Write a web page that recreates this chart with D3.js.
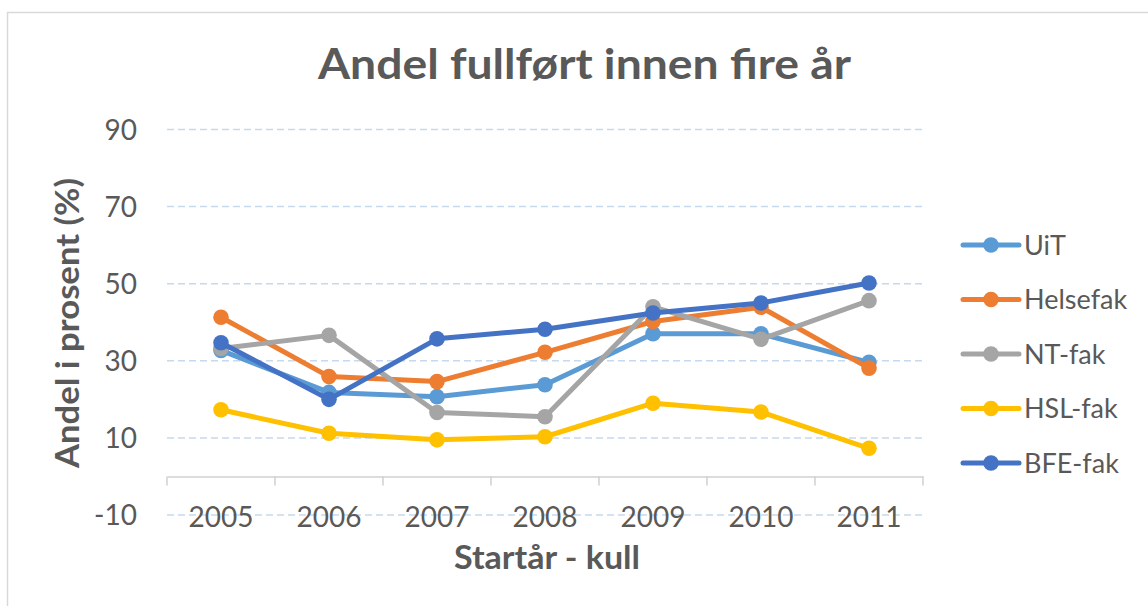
<!DOCTYPE html>
<html><head><meta charset="utf-8">
<script src="https://cdn.jsdelivr.net/npm/d3@7"></script>
<style>html,body{margin:0;padding:0;background:#fff;}svg{display:block;}</style>
</head><body>
<svg id="c" width="1148" height="606"></svg>
<script>
const years = ["2005","2006","2007","2008","2009","2010","2011"];
const seriesNames = ["UiT","Helsefak","NT-fak","HSL-fak","BFE-fak"];
const uit      = [32.7, 21.8, 20.7, 23.8, 37.0, 37.0, 29.6];
const helsefak = [41.3, 25.9, 24.6, 32.2, 40.2, 43.9, 28.1];
const ntfak    = [33.2, 36.6, 16.6, 15.5, 44.0, 35.6, 45.6];
const hslfak   = [17.3, 11.2, 9.5, 10.3, 19.0, 16.7, 7.3];
const bfefak   = [34.7, 20.0, 35.7, 38.2, 42.4, 45.0, 50.2];
const yTicks = [-10, 10, 30, 50, 70, 90];
const colors = ["#5B9BD5","#ED7D31","#A5A5A5","#FFC000","#4472C4"];
const seriesValues = [uit, helsefak, ntfak, hslfak, bfefak];

const svg = d3.select("#c");
const font = "Lato, 'Open Sans', sans-serif";
const txt = "#595959";

// chart border
svg.append("rect").attr("x",7.5).attr("y",12.5).attr("width",1160).attr("height",620)
  .attr("fill","none").attr("stroke","#D9D9D9").attr("stroke-width",1.5);

const x = d3.scaleBand().domain(years).range([167,923]).padding(0);
const y = d3.scaleLinear().domain([-10,90]).range([515,129.5]);

// gridlines
svg.append("g").selectAll("line").data(yTicks).join("line")
  .attr("x1",167).attr("x2",923).attr("y1",d=>y(d)).attr("y2",d=>y(d))
  .attr("stroke","#C5DAEE").attr("stroke-width",1.5).attr("stroke-dasharray","7,4");

// y tick labels
svg.append("g").selectAll("text").data(yTicks).join("text")
  .attr("x",137).attr("y",d=>y(d)).attr("dy","0.36em").attr("text-anchor","end")
  .attr("font-family",font).attr("font-size",28).attr("fill",txt).text(d=>d);

// x axis at 0
const xAxis = d3.axisBottom(x).tickSize(0).tickFormat("");
const gx = svg.append("g").attr("transform",`translate(0,${y(0)})`).call(xAxis);
gx.select(".domain").attr("stroke","#D0D0D0").attr("stroke-width",1.5);
const bounds = years.map(d=>x(d)).concat([x(years[years.length-1])+x.bandwidth()]);
gx.selectAll(".bt").data(bounds).join("line").attr("class","bt")
  .attr("x1",d=>d).attr("x2",d=>d).attr("y1",0).attr("y2",9)
  .attr("stroke","#D0D0D0").attr("stroke-width",1.5);

// x labels
svg.append("g").selectAll("text").data(years).join("text")
  .attr("x",d=>x(d)+x.bandwidth()/2).attr("y",527).attr("text-anchor","middle")
  .attr("font-family",font).attr("font-size",28).attr("fill",txt).text(d=>d);

// lines
const line = d3.line().x((d,i)=>x(years[i])+x.bandwidth()/2).y(d=>y(d));
seriesValues.forEach((vals,si)=>{
  const g = svg.append("g");
  g.append("path").datum(vals).attr("d",line).attr("fill","none")
    .attr("stroke",colors[si]).attr("stroke-width",5).attr("stroke-linejoin","round");
  g.selectAll("circle").data(vals).join("circle")
    .attr("cx",(d,i)=>x(years[i])+x.bandwidth()/2).attr("cy",d=>y(d)).attr("r",7.8)
    .attr("fill",colors[si]);
});

// title
svg.append("text").attr("x",584.5).attr("y",79).attr("text-anchor","middle")
  .attr("font-family",font).attr("font-weight","bold").attr("font-size",42).attr("fill",txt)
  .attr("textLength",533).attr("lengthAdjust","spacingAndGlyphs")
  .text("Andel fullført innen fire år");

// axis titles
svg.append("text").attr("x",547).attr("y",569).attr("text-anchor","middle")
  .attr("font-family",font).attr("font-weight","bold").attr("font-size",32).attr("fill",txt)
  .attr("textLength",186).attr("lengthAdjust","spacingAndGlyphs")
  .text("Startår - kull");
svg.append("text").attr("transform","translate(79,323) rotate(-90)").attr("text-anchor","middle")
  .attr("font-family",font).attr("font-weight","bold").attr("font-size",32).attr("fill",txt)
  .attr("textLength",290).attr("lengthAdjust","spacingAndGlyphs")
  .text("Andel i prosent (%)");

// legend
const leg = svg.append("g");
seriesNames.forEach((n,i)=>{
  const ly = 245 + i*54.5;
  leg.append("line").attr("x1",963).attr("x2",1019).attr("y1",ly).attr("y2",ly)
    .attr("stroke",colors[i]).attr("stroke-width",5).attr("stroke-linecap","round");
  leg.append("circle").attr("cx",991).attr("cy",ly).attr("r",7.8).attr("fill",colors[i]);
  leg.append("text").attr("x",1024).attr("y",ly).attr("dy","0.36em")
    .attr("font-family",font).attr("font-size",27).attr("fill",txt).text(n);
});
</script>
</body></html>
